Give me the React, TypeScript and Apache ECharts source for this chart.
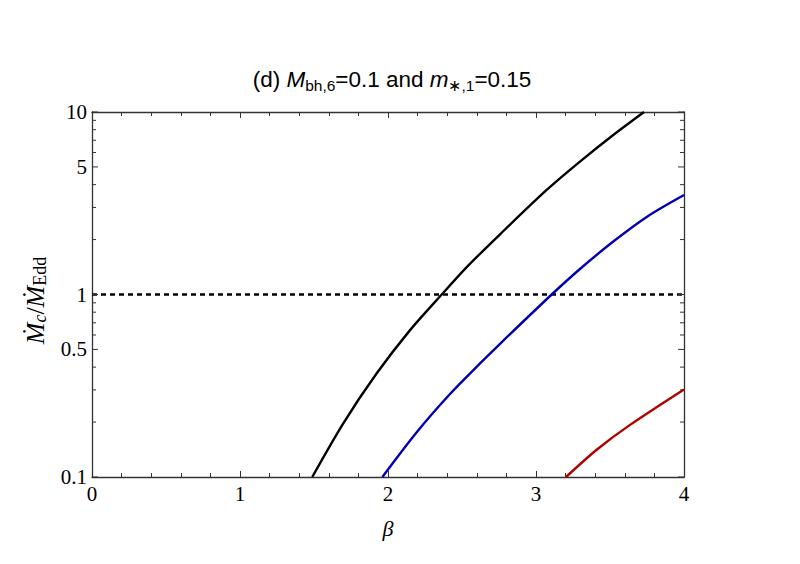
import React, { useEffect, useRef } from "react";
import * as echarts from "echarts";

// Data
const blackBeta = [1.488, 1.698, 1.924, 2.149, 2.363, 2.532, 2.757, 3.072, 3.297, 3.522, 3.73];
const blackRate = [0.1, 0.197, 0.37, 0.638, 1.0, 1.413, 2.138, 3.74, 5.35, 7.48, 10];
const blueBeta = [1.962, 2.194, 2.419, 2.622, 2.757, 3.106, 3.297, 3.522, 3.748, 4.0];
const blueRate = [0.1, 0.176, 0.285, 0.419, 0.537, 1.0, 1.38, 1.95, 2.661, 3.508];
const redBeta = [3.203, 3.41, 3.635, 4.0];
const redRate = [0.1, 0.141, 0.193, 0.302];
const eddBeta = [0, 4];
const eddRate = [1, 1];

const xTickLabels = [0, 1, 2, 3, 4];
const yTickValues = [0.1, 0.2, 0.3, 0.4, 0.5, 0.6, 0.7, 0.8, 0.9, 1, 2, 3, 4, 5, 6, 7, 8, 9, 10];
const yTickLabels = ["0.1", "0.5", "1", "5", "10"];

const SERIF = '"Liberation Serif", "Times New Roman", serif';
const SANS = '"Liberation Sans", Arial, sans-serif';

const zip = (a: number[], b: number[]) => a.map((v, i) => [v, b[i]]);

export default function App() {
  const ref = useRef<HTMLDivElement>(null);
  useEffect(() => {
    if (!ref.current) return;
    const chart = echarts.init(ref.current, null, { renderer: "svg" });
    const xMin = 0, xMax = 4;
    const tickData = yTickValues.map((v) => {
      const lbl = yTickLabels.find((t) => Number(t) === v);
      return { value: [xMin, v, lbl ? 1 : 0], label: lbl || "" };
    });
    const axisCommon = {
      type: "value",
      min: xMin,
      max: xMax,
      interval: 1,
      splitLine: { show: false },
      minorSplitLine: { show: false },
      axisLine: { show: true, onZero: false, lineStyle: { color: "#333", width: 1.3 } },
      axisTick: { show: true, inside: true, length: 6, lineStyle: { color: "#333", width: 1 } },
      minorTick: { show: true, splitNumber: 5, length: 4, lineStyle: { color: "#333", width: 1 } },
    };
    const curve = (color: string) => ({
      type: "line",
      smooth: 0.3,
      showSymbol: false,
      lineStyle: { color, width: 2.4 },
      z: 4,
    });
    const option: any = {
      animation: false,
      backgroundColor: "#fff",
      title: {
        text: "{n|(d) }{i|M}{s|bh,6}{n|=0.1 and }{i|m}{s|∗,1}{n|=0.15}",
        left: 387,
        textAlign: "center",
        top: 61,
        textStyle: {
          fontWeight: "normal",
          rich: {
            n: { fontFamily: SANS, fontSize: 22.5, fontWeight: "normal", color: "#000" },
            i: { fontFamily: SANS, fontSize: 22.5, fontStyle: "italic", fontWeight: "normal", color: "#000" },
            s: { fontFamily: SANS, fontSize: 15.5, fontWeight: "normal", color: "#000", padding: [11, 0, 0, 0] },
          },
        },
      },
      grid: { left: 92, right: 116, top: 112, bottom: 87, containLabel: false },
      xAxis: [
        {
          ...axisCommon,
          position: "bottom",
          name: "β",
          nameLocation: "middle",
          nameGap: 40,
          nameTextStyle: { fontFamily: SERIF, fontSize: 22, fontStyle: "italic", color: "#000" },
          axisLabel: {
            show: true,
            margin: 6,
            fontFamily: SERIF,
            fontSize: 21,
            color: "#000",
            formatter: (v: number) => (xTickLabels.includes(v) ? String(v) : ""),
          },
        },
        { ...axisCommon, position: "top", axisLabel: { show: false } },
      ],
      yAxis: [
        {
          type: "log",
          logBase: 10,
          min: 0.1,
          max: 10,
          position: "left",
          splitLine: { show: false },
          axisLine: { show: true, onZero: false, lineStyle: { color: "#333", width: 1.3 } },
          axisTick: { show: false },
          axisLabel: { show: false },
          name: "{i|Ṁ}{si|c}{n|/}{i|Ṁ}{s|Edd}",
          nameLocation: "middle",
          nameRotate: 90,
          nameGap: 43,
          nameTextStyle: {
            padding: [0, 12, 0, 0],
            rich: {
              i: { fontFamily: SERIF, fontSize: 26, fontStyle: "italic", color: "#000" },
              n: { fontFamily: SERIF, fontSize: 26, color: "#000" },
              si: { fontFamily: SERIF, fontSize: 18, fontStyle: "italic", color: "#000", padding: [10, 0, 0, 0] },
              s: { fontFamily: SERIF, fontSize: 18, color: "#000", padding: [10, 0, 0, 0] },
            },
          },
        },
        {
          type: "log",
          logBase: 10,
          min: 0.1,
          max: 10,
          position: "right",
          splitLine: { show: false },
          axisLine: { show: true, onZero: false, lineStyle: { color: "#333", width: 1.3 } },
          axisTick: { show: false },
          axisLabel: { show: false },
        },
      ],
      series: [
        {
          type: "line",
          data: zip(eddBeta, eddRate),
          showSymbol: false,
          lineStyle: { color: "#000", width: 2.3, type: [5, 4] },
          z: 3,
        },
        { ...curve("#000000"), data: zip(blackBeta, blackRate) },
        { ...curve("#0000b0"), data: zip(blueBeta, blueRate) },
        { ...curve("#b00000"), data: zip(redBeta, redRate) },
        {
          type: "custom",
          clip: false,
          silent: true,
          encode: { x: 0, y: 1 },
          data: tickData,
          renderItem: (params: any, api: any) => {
            const v = api.value(1);
            const major = api.value(2) === 1;
            const pL = api.coord([xMin, v]);
            const pR = api.coord([xMax, v]);
            const len = major ? 6 : 4;
            const stroke = { stroke: "#333", lineWidth: 1 };
            const children: any[] = [
              { type: "line", shape: { x1: pL[0], y1: pL[1], x2: pL[0] + len, y2: pL[1] }, style: stroke },
              { type: "line", shape: { x1: pR[0], y1: pR[1], x2: pR[0] - len, y2: pR[1] }, style: stroke },
            ];
            const lbl = tickData[params.dataIndex].label;
            if (lbl) {
              children.push({
                type: "text",
                style: {
                  text: lbl,
                  x: pL[0] - 5,
                  y: pL[1],
                  align: "right",
                  verticalAlign: "middle",
                  fontFamily: SERIF,
                  fontSize: 21,
                  fill: "#000",
                },
              });
            }
            return { type: "group", children };
          },
          z: 5,
        },
      ],
    };
    chart.setOption(option);
    return () => chart.dispose();
  }, []);
  return (
    <div
      ref={ref}
      style={{ position: "fixed", left: 0, top: 0, width: 800, height: 564, background: "#fff" }}
    />
  );
}
